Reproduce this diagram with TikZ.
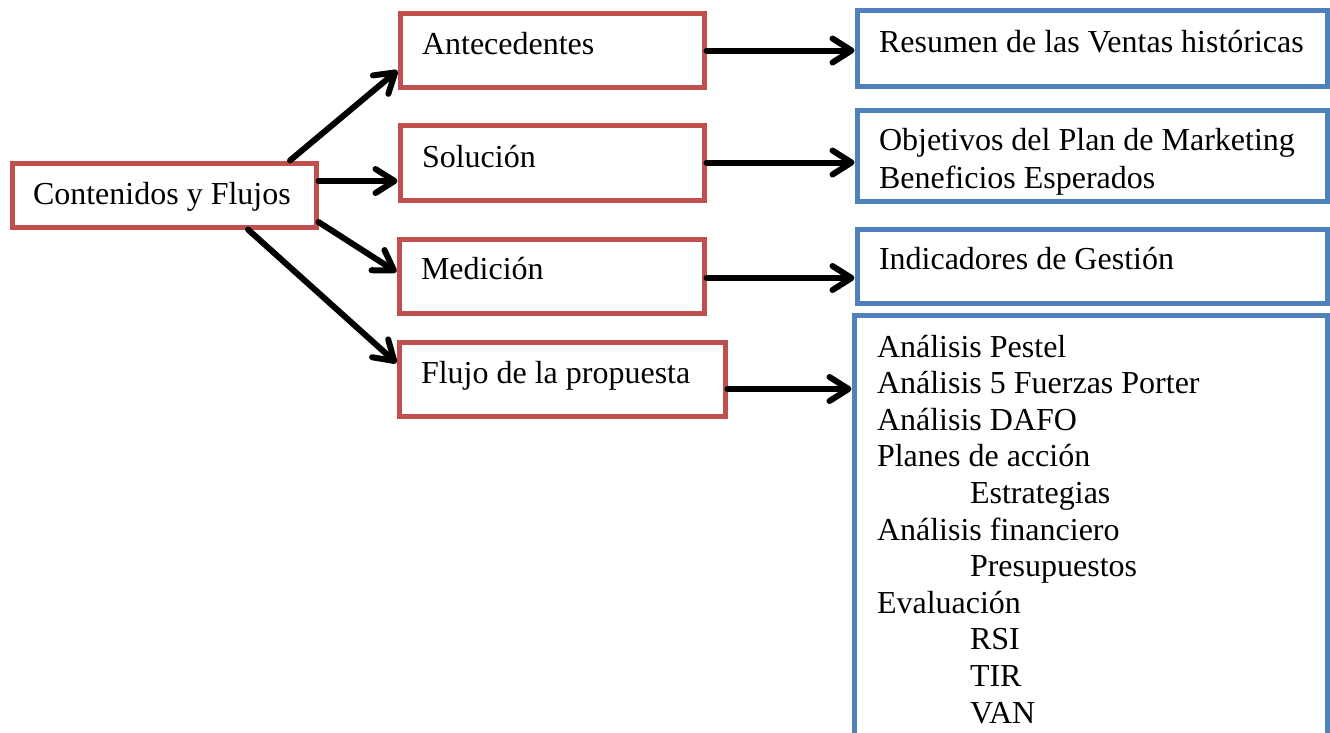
\documentclass[tikz,border=0pt]{standalone}
\usepackage{fontspec}
\setmainfont{Liberation Serif}
\usetikzlibrary{arrows.meta}
\definecolor{boxred}{HTML}{C0504D}
\definecolor{boxblue}{HTML}{4F81BD}
\tikzset{
  redbox/.style={draw=boxred, line width=5pt, rectangle, inner sep=0pt},
  bluebox/.style={draw=boxblue, line width=5pt, rectangle, inner sep=0pt},
  lbl/.style={anchor=base west, inner sep=0pt, outer sep=0pt, font=\fontsize{32}{37}\selectfont},
  arr/.style={line width=6pt, line cap=round, -{Straight Barb[round, length=19pt, width=24pt]}}
}
\begin{document}
\begin{tikzpicture}[x=1pt, y=-1pt]
\useasboundingbox (0,0) rectangle (1330,732);
\clip (0,0) rectangle (1330,732);
% red boxes
\node[redbox, minimum width=304pt, minimum height=64pt] (cont) at (164,195) {};
\node[redbox, minimum width=304pt, minimum height=74pt] (ant) at (552,50.5) {};
\node[redbox, minimum width=304pt, minimum height=75pt] (sol) at (552,162.5) {};
\node[redbox, minimum width=305pt, minimum height=74pt] (med) at (551.5,276) {};
\node[redbox, minimum width=326pt, minimum height=74pt] (flu) at (562,379) {};
% blue boxes
\node[bluebox, minimum width=470pt, minimum height=76pt] (res) at (1092,48) {};
\node[bluebox, minimum width=470pt, minimum height=91pt] (obj) at (1092,155.5) {};
\node[bluebox, minimum width=470pt, minimum height=74pt] (ind) at (1092,266) {};
\node[bluebox, minimum width=473pt, minimum height=445pt] (big) at (1090.5,537.5) {};
% texts
\node[lbl] (tcont) at (33,204) {Contenidos y Flujos};
\node[lbl] (tant) at (422,54) {Antecedentes};
\node[lbl] (tsol) at (422,167) {Solución};
\node[lbl] (tmed) at (421,279) {Medición};
\node[lbl] (tflu) at (421,383) {Flujo de la propuesta};
\node[lbl] (tres) at (879,52) {Resumen de las Ventas históricas};
\node[lbl] (tobja) at (879,150) {Objetivos del Plan de Marketing};
\node[lbl] (tobjb) at (879,188) {Beneficios Esperados};
\node[lbl] (tind) at (879,269) {Indicadores de Gestión};
\node[lbl] (b1) at (877,357) {Análisis Pestel};
\node[lbl] (b2) at (877,393.6) {Análisis 5 Fuerzas Porter};
\node[lbl] (b3) at (877,430.2) {Análisis DAFO};
\node[lbl] (b4) at (877,466.8) {Planes de acción};
\node[lbl] (b5) at (970,503.4) {Estrategias};
\node[lbl] (b6) at (877,540) {Análisis financiero};
\node[lbl] (b7) at (970,576.6) {Presupuestos};
\node[lbl] (b8) at (877,613.2) {Evaluación};
\node[lbl] (b9) at (970,649.8) {RSI};
\node[lbl] (b10) at (970,686.4) {TIR};
\node[lbl] (b11) at (970,723) {VAN};
% arrows
\draw[arr] ([xshift=126pt]cont.north) -- ([yshift=-20pt]ant.west);
\draw[arr] ([yshift=14pt]cont.east) -- ([yshift=14pt]cont.east -| sol.west);
\draw[arr] ([yshift=-27pt]cont.east) -- ([yshift=4pt]med.west);
\draw[arr] ([xshift=84pt]cont.south) -- ([yshift=16pt]flu.west);
\draw[arr] (ant.east) -- (ant.east -| res.west);
\draw[arr] (sol.east) -- (sol.east -| obj.west);
\draw[arr] ([yshift=-2pt]med.east) -- ([yshift=-2pt]med.east -| ind.west);
\draw[arr] ([yshift=-10pt]flu.east) -- ([yshift=-10pt]flu.east -| big.west);
\end{tikzpicture}
\end{document}
